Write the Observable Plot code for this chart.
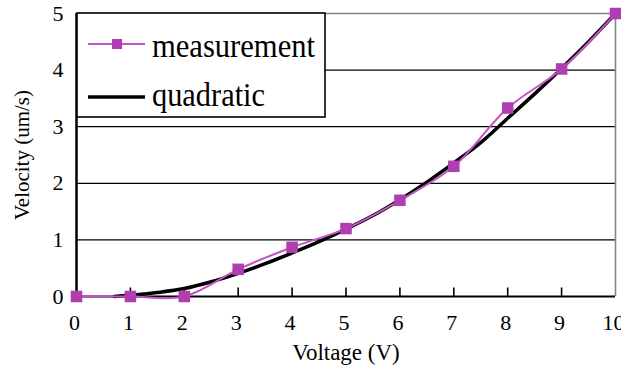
<!DOCTYPE html>
<html>
<head>
<meta charset="utf-8">
<script src="https://cdn.jsdelivr.net/npm/d3@7"></script>
<script src="https://cdn.jsdelivr.net/npm/@observablehq/plot@0.6"></script>
<style>
  html, body { margin: 0; padding: 0; background: white; }
  #chart { width: 621px; height: 367px; overflow: hidden; }
  #chart svg text { font-family: 'Liberation Serif', 'Times New Roman', serif; }
</style>
</head>
<body>
<div id="chart"></div>
<script>
// Tick values
const xTicks = [0, 1, 2, 3, 4, 5, 6, 7, 8, 9, 10];
const yTicks = [0, 1, 2, 3, 4, 5];

// Measurement series
const measVoltage  = [0, 1, 2, 3, 4, 5, 6, 7, 8, 9, 10];
const measVelocity = [0, 0, 0, 0.48, 0.87, 1.2, 1.7, 2.3, 3.33, 4.02, 5.0];

// Quadratic fit series
const fitVoltage  = [0.7, 1, 1.5, 2, 2.5, 3, 3.5, 4, 4.5, 5, 5.5, 6, 6.5, 7, 7.5, 8, 8.5, 9, 9.5, 10];
const fitVelocity = [0, 0.02, 0.07, 0.14, 0.26, 0.41, 0.58, 0.77, 0.97, 1.19, 1.43, 1.71, 2.02, 2.36, 2.72, 3.15, 3.58, 4.03, 4.5, 5.0];

const seriesNames = ["measurement", "quadratic"];

const meas = measVoltage.map((v, i) => ({v, s: measVelocity[i]}));
const fit = fitVoltage.map((v, i) => ({v, s: fitVelocity[i]}));

const purpleLine = "#C453C4";
const purpleMark = "#B03EB0";
const font = "'Liberation Serif', 'Times New Roman', serif";

const tickUp = {draw(ctx) { ctx.moveTo(0, 0); ctx.lineTo(0, -9); }};

const chart = Plot.plot({
  width: 621,
  height: 367,
  marginLeft: 76,
  marginRight: 6,
  marginTop: 13,
  marginBottom: 71,
  style: {fontFamily: font, background: "white", color: "black"},
  x: {domain: [0, 10]},
  y: {domain: [0, 5]},
  marks: [
    Plot.ruleY(yTicks.slice(1, -1), {stroke: "black", strokeWidth: 1.3}),
    Plot.ruleY([5], {stroke: "#858585", strokeWidth: 1.6}),
    Plot.ruleX([10], {stroke: "#858585", strokeWidth: 1.6}),
    Plot.ruleX([0], {stroke: "black", strokeWidth: 2.5}),
    Plot.ruleY([0], {stroke: "black", strokeWidth: 2}),
    Plot.dot(xTicks.slice(1, -1), {x: d => d, y: 0, symbol: tickUp, stroke: "black", strokeWidth: 1.6, fill: "none"}),
    Plot.axisX({ticks: xTicks, tickSize: 0, tickPadding: 18, fontSize: 22, dx: -2, label: null, tickFormat: d => String(d)}),
    Plot.axisY({ticks: yTicks, tickSize: 0, tickPadding: 13, fontSize: 22, label: null, tickFormat: d => String(d)}),
    Plot.text(["Voltage (V)"], {frameAnchor: "bottom", dy: 56, fontSize: 23, textAnchor: "middle", lineAnchor: "middle", fill: "black"}),
    Plot.text(["Velocity (um/s)"], {frameAnchor: "left", dx: -54, rotate: -90, fontSize: 21, textAnchor: "middle", lineAnchor: "middle", fill: "black"}),
    Plot.line(fit, {x: "v", y: "s", stroke: "black", strokeWidth: 3.5, curve: "catmull-rom"}),
    Plot.line(meas, {x: "v", y: "s", stroke: purpleLine, strokeWidth: 2, curve: "catmull-rom"}),
    Plot.dot(meas, {x: "v", y: "s", symbol: "square", r: 6.5, fill: purpleMark, stroke: "none"})
  ]
});

// Legend drawn inside the SVG
const svg = d3.select(chart);
const lg = svg.append("g").attr("text-anchor", "start");
lg.append("rect").attr("x", 77).attr("y", 13).attr("width", 248).attr("height", 104)
  .attr("fill", "white").attr("stroke", "black").attr("stroke-width", 1.6);
// row 1
lg.append("line").attr("x1", 88).attr("x2", 145).attr("y1", 44).attr("y2", 44)
  .attr("stroke", purpleLine).attr("stroke-width", 2);
lg.append("rect").attr("x", 112).attr("y", 39).attr("width", 10).attr("height", 10).attr("fill", purpleMark);
lg.append("text").attr("x", 152).attr("y", 57).attr("font-size", 33).attr("fill", "black")
  .attr("textLength", 163).attr("lengthAdjust", "spacingAndGlyphs").text(seriesNames[0]);
// row 2
lg.append("line").attr("x1", 88).attr("x2", 145).attr("y1", 97).attr("y2", 97)
  .attr("stroke", "black").attr("stroke-width", 3.5);
lg.append("text").attr("x", 152).attr("y", 106).attr("font-size", 33).attr("fill", "black")
  .attr("textLength", 113).attr("lengthAdjust", "spacingAndGlyphs").text(seriesNames[1]);

svg.selectAll("text").attr("font-family", font).style("font-family", font);

document.getElementById("chart").appendChild(chart);
</script>
</body>
</html>
